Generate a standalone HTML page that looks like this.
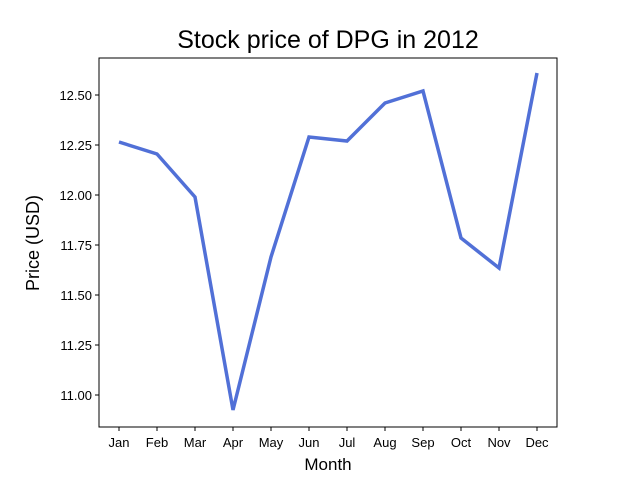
<!DOCTYPE html>
<html><head><meta charset="utf-8"><style>
body{margin:0;background:#fff}
svg text{font-family:"Liberation Sans",sans-serif;fill:#000}
</style></head><body>
<svg id="c" width="640" height="480">
<rect x="0" y="0" width="640" height="480" fill="#fff"/>
<text x="328" y="48" font-size="25" text-anchor="middle">Stock price of DPG in 2012</text>
<text x="328" y="470" font-size="17" text-anchor="middle">Month</text>
<text transform="translate(39,243) rotate(-90)" font-size="18" text-anchor="middle">Price (USD)</text>
<g id="g"></g>
<rect x="99" y="58" width="458" height="369" fill="none" stroke="#000" stroke-width="1"/>
</svg>
<script>
const months=["Jan","Feb","Mar","Apr","May","Jun","Jul","Aug","Sep","Oct","Nov","Dec"];
const prices=[12.265,12.205,11.99,10.925,11.69,12.29,12.27,12.46,12.52,11.785,11.635,12.61];
const yTicks=[11.00,11.25,11.50,11.75,12.00,12.25,12.50];
const NS="http://www.w3.org/2000/svg";
const g=document.getElementById('g');
function xs(i){return 119+i*38;}
function ys(v){return 395-(v-11)*200;}
function mk(t,a){const e=document.createElementNS(NS,t);for(const k in a)e.setAttribute(k,a[k]);g.appendChild(e);return e;}
yTicks.forEach(v=>{
 const l=mk('line',{x1:95,x2:99,y1:ys(v),y2:ys(v),stroke:'#000'});
 
 
 const t=mk('text',{x:92,y:ys(v)+5,'font-size':13,'text-anchor':'end'});
 t.textContent=v.toFixed(2);
 
 
});
months.forEach((m,i)=>{
 const l=mk('line',{x1:xs(i),x2:xs(i),y1:427,y2:431,stroke:'#000'});
 
 
 const t=mk('text',{x:xs(i),y:447,'font-size':13,'text-anchor':'middle'});
 t.textContent=m;
 
 
});
const p=mk('polyline',{points:prices.map((v,i)=>xs(i)+','+ys(v)).join(' '),fill:'none',stroke:'#5170d7','stroke-width':3.5,'stroke-linejoin':'miter'});


</script>
</body></html>
